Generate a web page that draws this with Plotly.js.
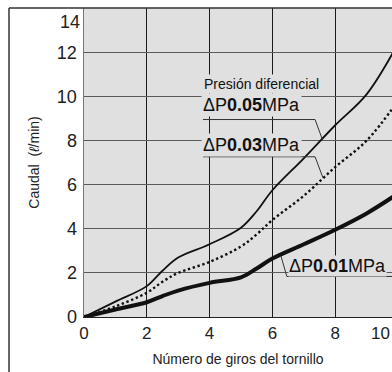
<!DOCTYPE html>
<html><head><meta charset="utf-8">
<script src="https://cdn.plot.ly/plotly-3.0.1.min.js"></script>
<style>html,body{margin:0;padding:0;overflow:hidden;background:#fff}</style>
</head><body><div id="chart" style="width:392px;height:372px"></div>
<script>
// Screw turns
const turns = [0, 1, 2, 2.5, 3, 4, 5, 5.5, 6, 7, 8, 9, 10];
// Flow (l/min) per differential pressure
const flow005 = [0, 0.7, 1.4, 2.1, 2.7, 3.3, 4.05, 4.8, 5.75, 7.2, 8.7, 10.1, 12.4];
const flow003 = [0, 0.48, 1.1, 1.6, 2.0, 2.5, 3.2, 3.75, 4.4, 5.5, 6.8, 8.0, 9.8];
const flow001 = [0, 0.34, 0.67, 0.95, 1.2, 1.55, 1.8, 2.2, 2.65, 3.3, 3.96, 4.7, 5.6];
const xTicks = [0, 2, 4, 6, 8, 10];
const yTicks = [0, 2, 4, 6, 8, 10, 12, 14];
const labels = ['Presión diferencial', 'ΔP<b>0.05</b>MPa', 'ΔP<b>0.03</b>MPa', 'ΔP<b>0.01</b>MPa'];

const FONT = 'Liberation Sans, Arial, sans-serif';
const BG = '#e0e0e0';

const traces = [
  {x: turns, y: flow005, mode: 'lines', line: {color: '#111', width: 1.8, shape: 'spline', smoothing: 1}},
  {x: turns, y: flow003, mode: 'lines', line: {color: '#111', width: 2.4, dash: '2.4px,2.6px', shape: 'spline', smoothing: 1}},
  {x: turns, y: flow001, mode: 'lines', line: {color: '#111', width: 4, shape: 'spline', smoothing: 1}}
];

const annBase = {xref: 'x', yref: 'y', showarrow: false, xanchor: 'left', yanchor: 'middle', bgcolor: BG, borderpad: 1};
const annotations = [
  Object.assign({}, annBase, {x: 3.76, y: 10.55, text: labels[0], font: {family: FONT, size: 14, color: '#111'}}),
  Object.assign({}, annBase, {x: 3.72, y: 9.62, text: labels[1], font: {family: FONT, size: 18, color: '#111'}}),
  Object.assign({}, annBase, {x: 3.72, y: 7.8, text: labels[2], font: {family: FONT, size: 18, color: '#111'}}),
  Object.assign({}, annBase, {x: 6.5, y: 2.33, text: labels[3], font: {family: FONT, size: 18, color: '#111'}, borderpad: 0}),
  {xref: 'paper', yref: 'paper', x: 1, y: -0.015, xanchor: 'right', yanchor: 'top', showarrow: false, text: String(xTicks[5]), font: {family: FONT, size: 17, color: '#222'}},
  {xref: 'paper', yref: 'y', x: 0, xshift: -2, y: 13.4, xanchor: 'right', yanchor: 'middle', showarrow: false, text: String(yTicks[7]), font: {family: FONT, size: 18, color: '#222'}}
];

const ln = {color: '#333', width: 1};
const shapes = [
  // leader lines
  {type: 'line', xref: 'x', yref: 'y', x0: 3.79, y0: 8.96, x1: 7.36, y1: 8.96, line: ln},
  {type: 'line', xref: 'x', yref: 'y', x0: 7.36, y0: 8.96, x1: 7.58, y1: 8.1, line: ln},
  {type: 'line', xref: 'x', yref: 'y', x0: 3.79, y0: 7.27, x1: 7.36, y1: 7.27, line: ln},
  {type: 'line', xref: 'x', yref: 'y', x0: 7.36, y0: 7.27, x1: 7.61, y1: 6.32, line: ln},
  {type: 'line', xref: 'x', yref: 'y', x0: 6.46, y0: 1.84, x1: 9.9, y1: 1.84, line: ln},
  {type: 'line', xref: 'x', yref: 'y', x0: 6.46, y0: 1.84, x1: 6.27, y1: 2.78, line: ln},
  // outer frame
  {type: 'line', xref: 'paper', yref: 'paper', x0: -0.2435, y0: 1, x1: 1.01, y1: 1, line: {color: '#333', width: 1.5}},
  {type: 'line', xref: 'paper', yref: 'paper', x0: -0.2435, y0: 1, x1: -0.2435, y1: -0.2, line: {color: '#333', width: 1.5}}
];

const layout = {
  width: 392, height: 372,
  margin: {l: 84, r: 0, t: 8, b: 55},
  paper_bgcolor: '#fff', plot_bgcolor: BG,
  showlegend: false,
  font: {family: FONT, color: '#222'},
  xaxis: {
    range: [0, 9.81], tickvals: xTicks, ticks: '', showgrid: true, gridcolor: '#1a1a1a', gridwidth: 1,
    zeroline: false, showline: true, linecolor: '#222', linewidth: 1.2,
    tickfont: {family: FONT, size: 17, color: '#222'},
    title: {text: 'Número de giros del tornillo', font: {family: FONT, size: 14, color: '#222'}, standoff: 12}
  },
  yaxis: {
    range: [0, 14.02], tickvals: yTicks.slice(0, 7), ticks: '', showgrid: true, gridcolor: '#5a5a5a', gridwidth: 1,
    zeroline: false, showline: true, linecolor: '#777', linewidth: 1.5, ticklabelstandoff: 2,
    tickfont: {family: FONT, size: 18, color: '#222'},
    title: {text: 'Caudal  (<i>ℓ</i>/min)', font: {family: FONT, size: 14, color: '#222'}, standoff: 14}
  },
  annotations: annotations,
  shapes: shapes
};

Plotly.newPlot('chart', traces, layout, {displayModeBar: false, staticPlot: true});
</script></body></html>
